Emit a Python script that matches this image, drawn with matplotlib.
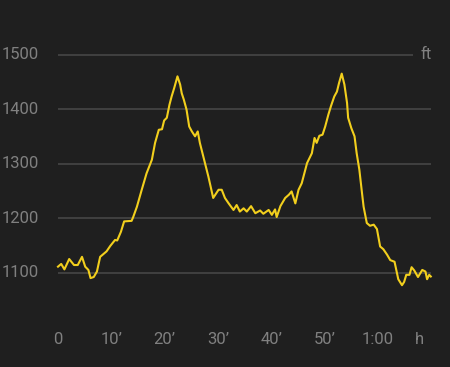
import matplotlib
matplotlib.use('Agg')
import matplotlib.pyplot as plt

# elevation profile
time_min = [0.0, 0.6, 1.2, 2.1, 3.0, 3.7, 4.5, 5.1, 5.7, 6.1, 6.7, 7.3, 7.9, 8.5, 9.1,
            9.8, 10.7, 11.1, 11.8, 12.4, 13.8, 14.1, 14.8, 15.7, 16.6, 17.6, 18.2, 18.9,
            19.5, 19.9, 20.4, 20.9, 21.3, 21.8, 22.4, 22.9, 23.2, 23.6, 24.1, 24.6, 25.1,
            25.7, 26.2, 26.6, 27.4, 28.2, 29.1, 30.1, 30.7, 31.3, 32.0, 32.9, 33.5, 34.1,
            34.8, 35.4, 36.2, 37.0, 37.9, 38.5, 39.5, 40.1, 40.7, 41.0, 41.7, 42.6, 43.3,
            43.8, 44.5, 45.1, 45.7, 46.7, 47.6, 48.1, 48.5, 49.0, 49.6, 50.1, 50.7, 51.2,
            51.8, 52.3, 52.7, 53.2, 53.7, 54.2, 54.4, 55.0, 55.6, 56.0, 56.5, 57.0, 57.3,
            57.9, 58.5, 59.2, 59.8, 60.4, 61.0, 61.7, 62.3, 63.1, 63.8, 64.5, 64.9, 65.3,
            65.9, 66.3, 66.8, 67.5, 68.3, 68.9, 69.2, 69.6, 69.9]
elev_ft = [1111, 1116, 1106, 1125, 1114, 1114, 1129, 1111, 1105, 1090, 1092, 1102, 1129, 1134, 1139,
           1149, 1160, 1159, 1175, 1194, 1195, 1202, 1221, 1252, 1282, 1307, 1338, 1362,
           1363, 1379, 1384, 1408, 1423, 1439, 1460, 1445, 1429, 1417, 1399, 1368, 1359,
           1350, 1359, 1338, 1307, 1276, 1237, 1252, 1252, 1237, 1227, 1215, 1224, 1212,
           1218, 1212, 1222, 1209, 1214, 1208, 1215, 1206, 1216, 1202, 1222, 1237, 1243,
           1249, 1227, 1252, 1264, 1301, 1319, 1347, 1338, 1351, 1353, 1368, 1390, 1406,
           1423, 1432, 1448, 1465, 1445, 1411, 1384, 1365, 1350, 1319, 1289, 1246, 1221,
           1191, 1186, 1188, 1180, 1148, 1143, 1133, 1123, 1120, 1088, 1077, 1083, 1096,
           1096, 1110, 1104, 1092, 1105, 1102, 1088, 1096, 1093]

y_ticks = [1100, 1200, 1300, 1400, 1500]
x_ticks = [0, 10, 20, 30, 40, 50, 60]
x_labels = ['0', '10\u2019', '20\u2019', '30\u2019', '40\u2019', '50\u2019', '1:00']

bg = '#1f1f1f'
grid_c = '#4a4a4a'
text_c = '#808080'
line_c = '#f2cf1d'

plt.rcParams['font.family'] = ['Roboto', 'DejaVu Sans']

fig = plt.figure(figsize=(4.5, 3.67), dpi=100, facecolor=bg)
ax = fig.add_axes([0, 0, 1, 1])
ax.set_facecolor(bg)
ax.set_xlim(-10.875, 73.5)
ax.set_ylim(927, 1600)
ax.axis('off')

# grid lines (top one is shorter to leave room for the unit)
for v in y_ticks:
    x_end = 66.6 if v == 1500 else 70
    ax.hlines(v, 0, x_end, color=grid_c, lw=1.1, zorder=1)
    ax.text(-3.6, v, str(v), color=text_c, fontsize=12, ha='right', va='center')

ax.text(68.0, 1500, 'ft', color=text_c, fontsize=12, ha='left', va='center')

for t, lab in zip(x_ticks, x_labels):
    ax.text(t, 978, lab, color=text_c, fontsize=12, ha='center', va='center')
ax.text(67.7, 978, 'h', color=text_c, fontsize=12, ha='center', va='center')

ax.plot(time_min, elev_ft, color=line_c, lw=1.5, zorder=3)

fig.savefig('out.png', dpi=100, facecolor=bg)
